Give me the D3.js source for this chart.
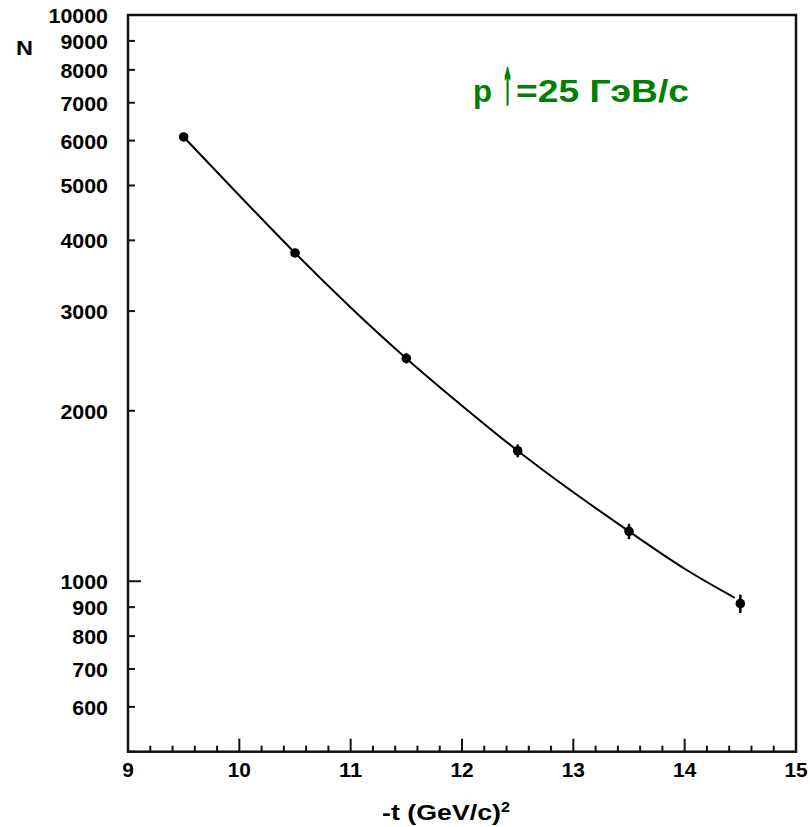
<!DOCTYPE html>
<html><head><meta charset="utf-8">
<script src="https://cdn.jsdelivr.net/npm/d3@7"></script>
<style>body{margin:0;background:#fff}svg{display:block}text{font-family:"Liberation Sans",Arial,Helvetica,sans-serif;font-weight:bold}</style>
</head><body>
<script>
const tValues = [9.5, 10.5, 11.5, 12.5, 13.5, 14.5];
const nValues = [6090, 3800, 2475, 1700, 1225, 913];
const nErrors = [78, 62, 50, 45, 38, 34];
const fitT = [9.5, 10, 10.5, 11, 11.5, 12, 12.5, 13, 13.5, 14, 14.45];
const fitN = [6090, 4800, 3800, 3045, 2475, 2042, 1700, 1436, 1225, 1052, 935];
const yTickLabels = [600, 700, 800, 900, 1000, 2000, 3000, 4000, 5000, 6000, 7000, 8000, 9000, 10000];
const xTickLabels = [9, 10, 11, 12, 13, 14, 15];

const W = 810, H = 827;
const m = {left:128, right:796, top:15, bottom:751.7};
const svg = d3.select("body").append("svg").attr("width", W).attr("height", H);
const x = d3.scaleLinear().domain([9, 15]).range([m.left, m.right]);
const y = d3.scaleLog().domain([500, 10000]).range([m.bottom, m.top]);

const yMinor = [];
for (let d = 500; d <= 900; d += 100) yMinor.push(d);
for (let d = 2000; d <= 9000; d += 1000) yMinor.push(d);
const xMinor = d3.range(0, 31).map(i => 9 + i * 0.2).filter(v => Math.abs(v - Math.round(v)) > 1e-6);

const g = svg.append("g");
g.selectAll(".ymin").data(yMinor).join("line")
  .attr("x1", m.left).attr("x2", m.left + 7).attr("y1", d => y(d)).attr("y2", d => y(d))
  .attr("stroke", "#111").attr("stroke-width", 2);
g.selectAll(".ymaj").data([1000, 10000]).join("line")
  .attr("x1", m.left).attr("x2", m.left + 13).attr("y1", d => y(d)).attr("y2", d => y(d))
  .attr("stroke", "#111").attr("stroke-width", 2);
g.selectAll(".xmin").data(xMinor).join("line")
  .attr("x1", d => x(d)).attr("x2", d => x(d)).attr("y1", m.bottom).attr("y2", m.bottom - 6)
  .attr("stroke", "#111").attr("stroke-width", 2);
g.selectAll(".xmaj").data(xTickLabels).join("line")
  .attr("x1", d => x(d)).attr("x2", d => x(d)).attr("y1", m.bottom).attr("y2", m.bottom - 13)
  .attr("stroke", "#111").attr("stroke-width", 2);

svg.append("rect").attr("x", m.left).attr("y", m.top).attr("width", m.right - m.left).attr("height", m.bottom - m.top)
  .attr("fill", "none").attr("stroke", "#111").attr("stroke-width", 2.5);

svg.selectAll(".yl").data(yTickLabels).join("text")
  .attr("x", m.left - 20).attr("y", d => y(d) + 8).attr("text-anchor", "end")
  .attr("font-size", 19.5).attr("fill", "#000")
  .attr("textLength", d => String(d).length * 11.9).attr("lengthAdjust", "spacingAndGlyphs")
  .text(d => d);
svg.selectAll(".xl").data(xTickLabels).join("text")
  .attr("x", d => x(d)).attr("y", 777).attr("text-anchor", "middle")
  .attr("font-size", 19.5).attr("fill", "#000")
  .attr("textLength", d => String(d).length * 11.6).attr("lengthAdjust", "spacingAndGlyphs")
  .text(d => d);

svg.append("text").attr("x", 16).attr("y", 55).attr("font-size", 21)
  .attr("textLength", 17).attr("lengthAdjust", "spacingAndGlyphs").text("N");

svg.append("text").attr("x", 382).attr("y", 820).attr("font-size", 22)
  .attr("textLength", 119).attr("lengthAdjust", "spacingAndGlyphs").text("-t (GeV/c)");
svg.append("text").attr("x", 501).attr("y", 811.5).attr("font-size", 15)
  .attr("textLength", 9).attr("lengthAdjust", "spacingAndGlyphs").text("2");

svg.append("text").attr("x", 473).attr("y", 102).attr("font-size", 31).attr("fill", "#008000").text("p");
svg.append("text").attr("transform", "translate(507.5,102) scale(0.32,1)")
  .attr("text-anchor", "middle")
  .attr("font-family", "DejaVu Sans").attr("font-weight", "normal").attr("font-size", 60)
  .attr("fill", "#008000").attr("stroke", "#008000").attr("stroke-width", 3.5)
  .text("↑");
svg.append("text").attr("x", 516).attr("y", 102).attr("font-size", 31).attr("fill", "#008000")
  .attr("textLength", 173).attr("lengthAdjust", "spacingAndGlyphs").text("=25 ГэВ/с");

svg.append("path").datum(fitT.map((t, i) => [t, fitN[i]]))
  .attr("d", d3.line().x(d => x(d[0])).y(d => y(d[1])).curve(d3.curveNatural))
  .attr("fill", "none").attr("stroke", "#000").attr("stroke-width", 2);

const pts = tValues.map((t, i) => ({t, n: nValues[i], e: nErrors[i]}));
svg.selectAll(".eb").data(pts).join("line")
  .attr("x1", d => x(d.t)).attr("x2", d => x(d.t))
  .attr("y1", d => y(d.n - d.e)).attr("y2", d => y(d.n + d.e))
  .attr("stroke", "#000").attr("stroke-width", 2.5);
svg.selectAll(".pt").data(pts).join("circle")
  .attr("cx", d => x(d.t)).attr("cy", d => y(d.n)).attr("r", 4.8).attr("fill", "#000");
</script>
</body></html>
